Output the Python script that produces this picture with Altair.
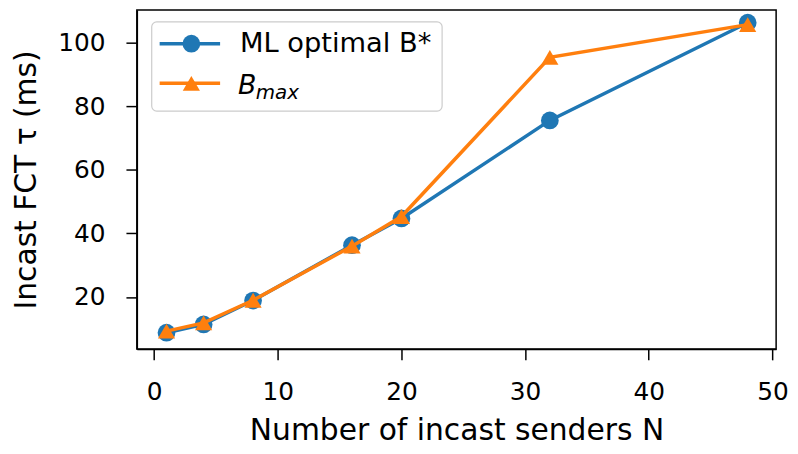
import altair as alt
import pandas as pd

N = [1, 4, 8, 16, 20, 32, 48]
ml_opt = [8.8, 11.4, 18.9, 36.3, 44.7, 75.5, 106.2]
b_max = [9.3, 11.9, 19.0, 36.0, 45.3, 95.3, 105.6]

x_ticks = [0, 10, 20, 30, 40, 50]
y_ticks = [20, 40, 60, 80, 100]

BLUE = "#1f77b4"
ORANGE = "#ff7f0e"

df_ml = pd.DataFrame({"N": N, "tau": ml_opt})
df_bm = pd.DataFrame({"N": N, "tau": b_max})

W, H = 645, 342

xs = alt.Scale(domain=[-1.4, 50.3], nice=False, zero=False)
ys = alt.Scale(domain=[3.7, 110.2], nice=False, zero=False)

x_enc = alt.X("N:Q", scale=xs, title="Number of incast senders N",
              axis=alt.Axis(values=x_ticks, format="d"))
y_enc = alt.Y("tau:Q", scale=ys, title="Incast FCT τ (ms)",
              axis=alt.Axis(values=y_ticks, format="d"))

line_ml = alt.Chart(df_ml).mark_line(color=BLUE, strokeWidth=3.5).encode(x=x_enc, y=y_enc)
pt_ml = alt.Chart(df_ml).mark_point(shape="circle", filled=True, size=320, color=BLUE, opacity=1).encode(x="N:Q", y="tau:Q")
line_bm = alt.Chart(df_bm).mark_line(color=ORANGE, strokeWidth=3.5).encode(x="N:Q", y="tau:Q")
pt_bm = alt.Chart(df_bm).mark_point(shape="triangle-up", filled=True, size=300, color=ORANGE, opacity=1).encode(x="N:Q", y="tau:Q")

# manual legend (matplotlib style)
leg_df = pd.DataFrame({"d": [0]})
base = alt.Chart(leg_df)
leg_box = base.mark_rect(fill="white", fillOpacity=0.8, stroke="#cccccc", strokeWidth=1.2, cornerRadius=5).encode(
    x=alt.value(15), x2=alt.value(308), y=alt.value(12), y2=alt.value(102))
r1y, r2y = 34, 74
leg_l1 = base.mark_rule(color=BLUE, strokeWidth=3.5).encode(x=alt.value(23), x2=alt.value(84), y=alt.value(r1y))
leg_p1 = base.mark_point(shape="circle", filled=True, size=320, color=BLUE, opacity=1).encode(x=alt.value(55), y=alt.value(r1y))
leg_t1 = base.mark_text(text="ML optimal B*", align="left", baseline="middle", fontSize=27.5, font="DejaVu Sans", color="black").encode(
    x=alt.value(104), y=alt.value(r1y))
leg_l2 = base.mark_rule(color=ORANGE, strokeWidth=3.5).encode(x=alt.value(23), x2=alt.value(84), y=alt.value(r2y))
leg_p2 = base.mark_point(shape="triangle-up", filled=True, size=300, color=ORANGE, opacity=1).encode(x=alt.value(55), y=alt.value(r2y))
leg_t2a = base.mark_text(text="B", align="left", baseline="middle", fontSize=27, fontStyle="italic", font="DejaVu Sans", color="black").encode(
    x=alt.value(102), y=alt.value(r2y + 3))
leg_t2b = base.mark_text(text="max", align="left", baseline="middle", fontSize=20, fontStyle="italic", font="DejaVu Sans", color="black").encode(
    x=alt.value(120), y=alt.value(r2y + 10))

chart = alt.layer(
    line_ml, pt_ml, line_bm, pt_bm,
    leg_box, leg_l1, leg_p1, leg_t1, leg_l2, leg_p2, leg_t2a, leg_t2b,
).properties(
    width=W, height=H,
    autosize=alt.AutoSizeParams(type="none"),
    padding={"left": 130, "top": 0, "right": 14, "bottom": 102},
).configure_view(
    stroke="black", strokeWidth=1.5
).configure_axis(
    domain=True, domainColor="black", domainWidth=1.5,
    ticks=True, tickColor="black", tickWidth=1.5, tickSize=11,
    grid=False,
    labelFont="DejaVu Sans", labelFontSize=25, labelColor="black",
    titleFont="DejaVu Sans", titleFontSize=30, titleFontWeight="normal", titleColor="black",
).configure_axisX(
    labelPadding=20, titlePadding=11
).configure_axisY(
    labelPadding=21, titlePadding=17
)

chart.save("out.html", embed_options={"renderer": "svg", "actions": False})
